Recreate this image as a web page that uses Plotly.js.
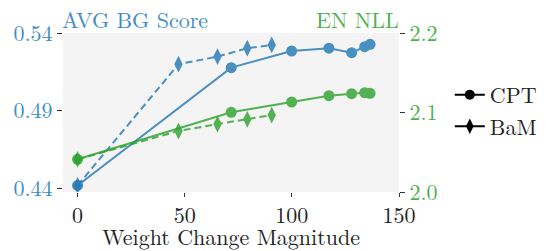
<!DOCTYPE html>
<html>
<head>
<meta charset="utf-8">
<script src="https://cdn.plot.ly/plotly-3.0.1.min.js"></script>
<style>html,body{margin:0;padding:0;background:#fff;}#chart{width:554px;height:251px;}</style>
</head>
<body>
<div id="chart"></div>
<script>
// Weight change magnitude (x) per run
const cptX = [0, 71.7, 99.9, 117.3, 127.9, 134.0, 136.5];
const bamX = [0, 47.1, 65.3, 79.2, 90.6];
// AVG BG Score (left axis)
const cptBG = [0.4418, 0.5177, 0.5284, 0.5302, 0.5273, 0.5312, 0.5327];
const bamBG = [0.4418, 0.5199, 0.5248, 0.5302, 0.5323];
// EN NLL (right axis)
const cptNLL = [2.0411, 2.1002, 2.1132, 2.1211, 2.1237, 2.1249, 2.1241];
const bamNLL = [2.0411, 2.0767, 2.0855, 2.0914, 2.0968];

const xTicks = [0, 50, 100, 150];
const leftTicks = [0.44, 0.49, 0.54];
const rightTicks = [2.0, 2.1, 2.2];

const blue = 'rgb(31,119,180)';
const green = 'rgb(44,160,44)';
const blueTxt = '#3f8dc4';
const greenTxt = '#4db04d';
const FONT = 'Latin Modern Roman';
const FS = 22;

const traces = [
  {x: cptX, y: cptBG, mode: 'lines+markers', opacity: 0.8, showlegend: false,
   line: {color: blue, width: 2}, marker: {symbol: 'circle', size: 11, color: blue}},
  {x: bamX, y: bamBG, mode: 'lines+markers', opacity: 0.8, showlegend: false,
   line: {color: blue, width: 2, dash: '7px,4px'}, marker: {symbol: 'diamond-tall', size: 12, color: blue}},
  {x: cptX, y: cptNLL, yaxis: 'y2', mode: 'lines+markers', opacity: 0.8, showlegend: false,
   line: {color: green, width: 2}, marker: {symbol: 'circle', size: 11, color: green}},
  {x: bamX, y: bamNLL, yaxis: 'y2', mode: 'lines+markers', opacity: 0.8, showlegend: false,
   line: {color: green, width: 2, dash: '7px,4px'}, marker: {symbol: 'diamond-tall', size: 12, color: green}},
  {x: [null], y: [null], name: 'CPT', mode: 'lines+markers',
   line: {color: 'black', width: 2}, marker: {symbol: 'circle', size: 10, color: 'black'}},
  {x: [null], y: [null], name: 'BaM', mode: 'lines+markers',
   line: {color: 'black', width: 2}, marker: {symbol: 'diamond-tall', size: 11, color: 'black'}}
];

const layout = {
  width: 554, height: 251,
  margin: {l: 63, r: 147, t: 33, b: 59},
  paper_bgcolor: '#ffffff',
  plot_bgcolor: '#f4f4f4',
  font: {family: FONT, size: FS, color: '#222'},
  xaxis: {
    range: [-6.8, 150], tickvals: xTicks, ticktext: xTicks.map(String),
    showgrid: false, zeroline: false, showline: false,
    ticks: 'outside', ticklen: 4, tickcolor: '#333', tickwidth: 1,
    tickfont: {family: FONT, size: FS, color: '#222'},
    title: {text: 'Weight Change Magnitude', font: {family: FONT, size: FS, color: '#222'}, standoff: 3}
  },
  yaxis: {
    range: [0.4376, 0.54], tickvals: leftTicks, ticktext: leftTicks.map(v => v.toFixed(2)),
    showgrid: false, zeroline: false, showline: false,
    ticks: 'outside', ticklen: 5, tickcolor: '#333', tickwidth: 1,
    tickfont: {family: FONT, size: FS, color: blueTxt}
  },
  yaxis2: {
    overlaying: 'y', side: 'right',
    range: [2.0, 2.2], tickvals: rightTicks, ticktext: rightTicks.map(v => v.toFixed(1)),
    showgrid: false, zeroline: false, showline: false,
    ticks: 'outside', ticklen: 5, tickcolor: '#333', tickwidth: 1,
    tickfont: {family: FONT, size: FS, color: greenTxt}
  },
  legend: {
    x: 1.425, y: 0.51, xanchor: 'right', yanchor: 'middle',
    font: {family: FONT, size: FS, color: '#222'},
    bgcolor: 'rgba(0,0,0,0)', itemwidth: 30, tracegroupgap: 0
  },
  annotations: [
    {text: 'AVG BG Score', xref: 'paper', yref: 'paper', x: 0, y: 1, xanchor: 'left', yanchor: 'bottom',
     showarrow: false, font: {family: FONT, size: FS, color: blueTxt}, yshift: -3, xshift: -3},
    {text: 'EN NLL', xref: 'paper', yref: 'paper', x: 1, y: 1, xanchor: 'right', yanchor: 'bottom',
     showarrow: false, font: {family: FONT, size: FS, color: greenTxt}, yshift: -3, xshift: 2}
  ]
};

Plotly.newPlot('chart', traces, layout, {displayModeBar: false, staticPlot: true});
</script>
</body>
</html>
